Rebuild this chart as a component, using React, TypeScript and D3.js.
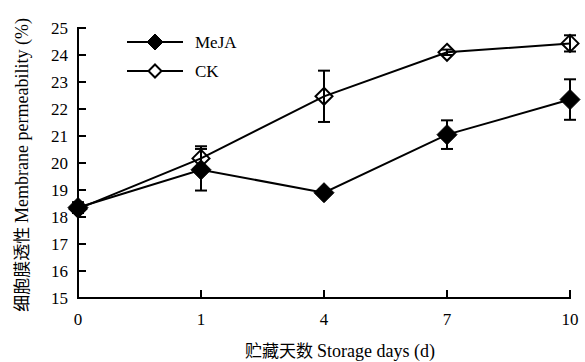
import React from 'react';
import * as d3 from 'd3';

// storage days (categorical, evenly spaced)
const days = ['0', '1', '4', '7', '10'];
const mejaValues = [18.35, 19.75, 18.9, 21.05, 22.35];
const mejaErrors = [0.2, 0.77, 0.12, 0.53, 0.75];
const ckValues = [18.3, 20.17, 22.47, 24.1, 24.43];
const ckErrors = [0.15, 0.45, 0.95, 0.1, 0.3];
const yTicks = [15, 16, 17, 18, 19, 20, 21, 22, 23, 24, 25];

const W = 585, H = 362;
const left = 78, right = 570, top = 28, bottom = 298;

const serif = { fontFamily: "'Liberation Serif', 'DejaVu Serif', serif" };
const cjk = { fontFamily: "'Noto Sans CJK SC', sans-serif" };

export default function App() {
  const x = d3.scalePoint<string>().domain(days).range([left, right]);
  const y = d3.scaleLinear().domain([15, 25]).range([bottom, top]);
  const line = d3.line<number>().x((_, i) => x(days[i])!).y(d => y(d));
  const diamond = (r: number) => `M0,${-r}L${r},0L0,${r}L${-r},0Z`;

  const series = [
    { name: 'MeJA', values: mejaValues, errors: mejaErrors, filled: true },
    { name: 'CK', values: ckValues, errors: ckErrors, filled: false },
  ];

  return (
    <svg width={W} height={H} style={{ position: 'absolute', left: 0, top: 0, background: '#fff' }}>
      <rect width={W} height={H} fill="#fff" />
      {/* axes */}
      <line x1={left} y1={top - 1} x2={left} y2={bottom} stroke="#000" strokeWidth={2} />
      <line x1={left - 1} y1={bottom} x2={right + 1} y2={bottom} stroke="#000" strokeWidth={2} />
      {yTicks.map(t => (
        <g key={t}>
          <line x1={left} x2={left + 8} y1={y(t)} y2={y(t)} stroke="#000" strokeWidth={2} />
          <text x={left - 10} y={y(t) + 6} textAnchor="end" style={serif} fontSize={17}>{t}</text>
        </g>
      ))}
      {days.map(d => (
        <g key={d}>
          <line x1={x(d)} x2={x(d)} y1={bottom} y2={bottom - 8} stroke="#000" strokeWidth={2} />
          <text x={x(d)} y={bottom + 27} textAnchor="middle" style={serif} fontSize={17}>{d}</text>
        </g>
      ))}
      <text x={340} y={357} textAnchor="middle" fontSize={18}>
        <tspan style={cjk} fontSize={17}>贮藏天数 </tspan>
        <tspan style={serif}>Storage days (d)</tspan>
      </text>
      <text transform={`translate(28,165) rotate(-90)`} textAnchor="middle" fontSize={18}>
        <tspan style={cjk} fontSize={17}>细胞膜透性 </tspan>
        <tspan style={serif}>Membrane permeability (%)</tspan>
      </text>
      {/* series */}
      {series.map(s => (
        <g key={s.name}>
          {s.values.map((v, i) => {
            const cx = x(days[i])!;
            return (
              <g key={i} stroke="#000" strokeWidth={2}>
                <line x1={cx} x2={cx} y1={y(v - s.errors[i])} y2={y(v + s.errors[i])} />
                <line x1={cx - 6} x2={cx + 6} y1={y(v - s.errors[i])} y2={y(v - s.errors[i])} />
                <line x1={cx - 6} x2={cx + 6} y1={y(v + s.errors[i])} y2={y(v + s.errors[i])} />
              </g>
            );
          })}
          <path d={line(s.values)!} fill="none" stroke="#000" strokeWidth={2} />
          {s.values.map((v, i) => (
            <path key={i} transform={`translate(${x(days[i])},${y(v)})`}
              d={diamond(s.filled ? 10 : 8.5)}
              fill={s.filled ? '#000' : 'none'} stroke="#000" strokeWidth={s.filled ? 1 : 2} />
          ))}
        </g>
      ))}
      {/* legend */}
      {series.map((s, i) => {
        const ly = 42 + i * 29;
        return (
          <g key={s.name}>
            <line x1={127} x2={183} y1={ly} y2={ly} stroke="#000" strokeWidth={2} />
            <path transform={`translate(155,${ly})`} d={diamond(s.filled ? 8 : 6.5)}
              fill={s.filled ? '#000' : '#fff'} stroke="#000" strokeWidth={s.filled ? 1 : 2} />
            <text x={195} y={ly + 6} style={serif} fontSize={17}>{s.name}</text>
          </g>
        );
      })}
    </svg>
  );
}
